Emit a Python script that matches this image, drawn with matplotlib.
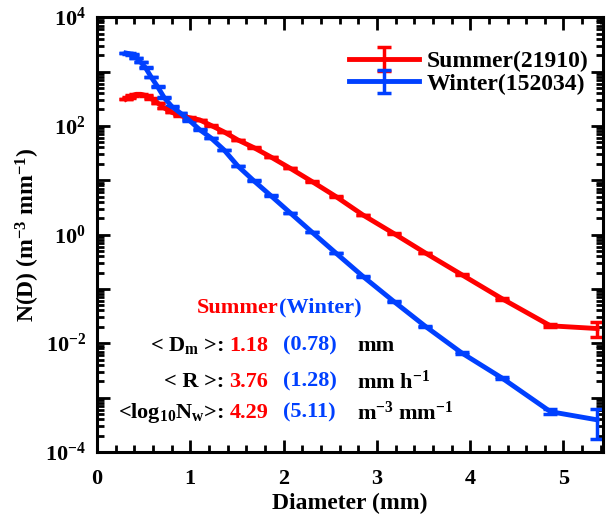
import numpy as np
import matplotlib
matplotlib.use('Agg')
import matplotlib.pyplot as plt
from matplotlib.ticker import MultipleLocator, LogLocator, FixedLocator, NullFormatter

plt.rcParams['font.family'] = 'Liberation Serif'
plt.rcParams['font.weight'] = 'bold'
plt.rcParams['mathtext.fontset'] = 'custom'
plt.rcParams['mathtext.rm'] = 'Liberation Serif:bold'
plt.rcParams['mathtext.it'] = 'Liberation Serif:bold'
plt.rcParams['mathtext.bf'] = 'Liberation Serif:bold'
plt.rcParams['mathtext.default'] = 'rm'

# diameter bins (mm)
diameter = [0.31, 0.34, 0.38, 0.42, 0.47, 0.52, 0.58, 0.65, 0.72, 0.80,
            0.89, 0.99, 1.10, 1.22, 1.36, 1.51, 1.68, 1.86, 2.07, 2.30,
            2.56, 2.85, 3.18, 3.52, 3.91, 4.34, 4.86, 5.36]

# log10 N(D)
summer_log = [2.49, 2.52, 2.56, 2.58, 2.58, 2.56, 2.50, 2.42, 2.33, 2.25,
              2.19, 2.15, 2.11, 2.01, 1.89, 1.74, 1.60, 1.43, 1.22, 0.98,
              0.70, 0.36, 0.02, -0.34, -0.74, -1.18, -1.68, -1.73]
winter_log = [3.34, 3.33, 3.31, 3.25, 3.17, 3.07, 2.90, 2.72, 2.52, 2.36,
              2.24, 2.10, 1.93, 1.78, 1.56, 1.26, 0.99, 0.72, 0.40, 0.05,
              -0.34, -0.77, -1.23, -1.69, -2.18, -2.64, -3.26, -3.41]

# relative error (fraction of N(D))
summer_err = [0.01, 0.01, 0.01, 0.01, 0.01, 0.01, 0.01, 0.01, 0.01, 0.01,
              0.01, 0.01, 0.01, 0.01, 0.01, 0.01, 0.01, 0.01, 0.01, 0.01,
              0.01, 0.01, 0.02, 0.02, 0.03, 0.04, 0.06, 0.3]
winter_err = [0.01, 0.01, 0.01, 0.01, 0.01, 0.01, 0.01, 0.01, 0.01, 0.01,
              0.01, 0.01, 0.01, 0.01, 0.01, 0.01, 0.01, 0.01, 0.01, 0.01,
              0.01, 0.01, 0.02, 0.02, 0.03, 0.04, 0.1, 0.55]

red = '#ff0000'
blue = '#0040ff'

summer = 10 ** np.array(summer_log)
winter = 10 ** np.array(winter_log)

fig = plt.figure(figsize=(6.1, 5.2), dpi=100)
ax = fig.add_axes([0.159, 0.131, 0.829, 0.836])

ax.errorbar(diameter, summer, yerr=summer * np.array(summer_err), color=red,
            lw=3.5, capsize=5, capthick=2.5, elinewidth=2.5, label='Summer(21910)')
ax.errorbar(diameter, winter, yerr=winter * np.array(winter_err), color=blue,
            lw=3.5, capsize=5, capthick=2.5, elinewidth=2.5, label='Winter(152034)')

ax.set_yscale('log')
ax.set_xlim(0, 5.42)
ax.set_ylim(1e-4, 1e4)
ax.xaxis.set_major_locator(MultipleLocator(1))
ax.xaxis.set_minor_locator(MultipleLocator(0.2))
ax.yaxis.set_major_locator(FixedLocator([10.0 ** k for k in range(-4, 5)]))
ax.set_yticklabels(['$10^{%d}$' % k if k % 2 == 0 else '' for k in range(-4, 5)])
ax.yaxis.set_minor_locator(LogLocator(base=10, subs=np.arange(2, 10), numticks=20))
ax.yaxis.set_minor_formatter(NullFormatter())

ax.tick_params(which='both', direction='in', top=True, right=True, labelsize=16, width=2)
ax.tick_params(which='major', length=9, pad=8)
ax.tick_params(which='minor', length=5)
ax.tick_params(axis='x', which='major', pad=12)
for s in ax.spines.values():
    s.set_linewidth(2.2)

ax.set_xlabel('Diameter (mm)', fontsize=17, fontweight='bold', labelpad=3)
ax.set_ylabel('N(D) (m$^{-3}$ mm$^{-1}$)', fontsize=17, fontweight='bold', labelpad=2)

ax.legend(loc='upper right', frameon=False, fontsize=17, handlelength=3,
          borderaxespad=0.0, labelspacing=0.05, handletextpad=0.3,
          bbox_to_anchor=(0.99, 0.945))

fs = 16
t = ax.text(1.07, 10 ** -1.35, 'Summer', color=red, fontsize=fs, ha='left', va='center')
ax.annotate('(Winter)', xy=(1, 0.5), xycoords=t, color=blue, fontsize=fs, ha='left', va='center')

rows = [(-2.05, '< D$_{m}$ >:', '1.18', '(0.78)', 'mm'),
        (-2.71, '< R >:', '3.76', '(1.28)', 'mm h$^{-1}$'),
        (-3.28, '<log$_{10}$N$_{w}$>:', '4.29', '(5.11)', 'm$^{-3}$ mm$^{-1}$')]
for yl, lab, sv, wv, unit in rows:
    ax.text(1.36, 10 ** yl, lab, color='black', fontsize=fs, ha='right', va='center')
    ax.text(1.42, 10 ** yl, sv, color=red, fontsize=fs, ha='left', va='center')
    ax.text(1.99, 10 ** yl, wv, color=blue, fontsize=fs, ha='left', va='center')
    ax.text(2.79, 10 ** yl, unit, color='black', fontsize=fs, ha='left', va='center')

fig.savefig('out.png', dpi=100)
